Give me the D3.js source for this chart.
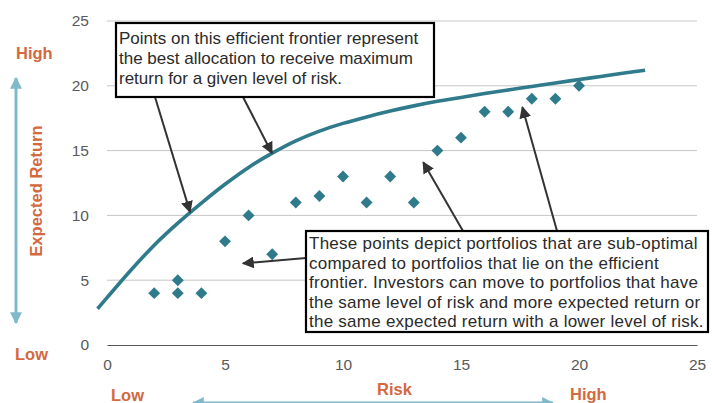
<!DOCTYPE html>
<html>
<head>
<meta charset="utf-8">
<script src="https://cdn.jsdelivr.net/npm/d3@7"></script>
<style>
  html, body { margin: 0; padding: 0; background: #fff; }
  svg { display: block; font-family: "Liberation Sans", Arial, sans-serif; }
</style>
</head>
<body>
<svg id="chart" width="712" height="403"></svg>
<script>
// Efficient frontier (risk, expected return)
const frontierRisk   = [-0.4, 0, 1, 2, 3, 4, 5, 6, 7, 8, 9, 10, 11, 12, 13, 14, 15, 16, 17, 18, 19, 20, 21, 22, 22.8];
const frontierReturn = [2.8, 3.65, 5.75, 7.7, 9.4, 10.95, 12.4, 13.7, 14.8, 15.75, 16.5, 17.1, 17.6, 18.05, 18.45, 18.8, 19.1, 19.4, 19.68, 19.95, 20.22, 20.48, 20.74, 21.0, 21.2];

// Individual portfolios
const portfolioRisk   = [2, 3, 3, 4, 5, 6, 7, 8, 9, 10, 11, 12, 13, 14, 15, 16, 17, 18, 19, 20];
const portfolioReturn = [4, 4, 5, 4, 8, 10, 7, 11, 11.5, 13, 11, 13, 11, 15, 16, 18, 18, 19, 19, 20];

const xTicks = [0, 5, 10, 15, 20, 25];
const yTicks = [0, 5, 10, 15, 20, 25];

const topNote = [
  "Points on this efficient frontier represent",
  "the best allocation to receive maximum",
  "return for a given level of risk."
];
const bottomNote = [
  "These points depict portfolios that are sub-optimal",
  "compared to portfolios that lie on the efficient",
  "frontier.  Investors can move to portfolios that have",
  "the same level of risk and more expected return or",
  "the same expected return with a lower level of risk."
];

// Arrow tips, in chart units
const topTips = [[3.52, 10.25], [6.99, 14.8]];
const bottomTips = [[5.76, 6.3], [13.4, 14.1], [17.6, 18.35]];

const teal = "#2f7a8b";
const orange = "#d2693f";
const guide = "#80b9c9";
const ink = "#333";

const svg = d3.select("#chart");
const x = d3.scaleLinear().domain([0, 25]).range([107, 697]);
const y = d3.scaleLinear().domain([0, 25]).range([345, 21]);

const defs = svg.append("defs");
defs.append("marker")
  .attr("id", "head").attr("viewBox", "0 0 10 10")
  .attr("refX", 9).attr("refY", 5)
  .attr("markerWidth", 6).attr("markerHeight", 6)
  .attr("markerUnits", "strokeWidth")
  .attr("orient", "auto")
  .append("path").attr("d", "M0,0 L10,5 L0,10 Z").attr("fill", ink);
defs.append("marker")
  .attr("id", "guideHead").attr("viewBox", "0 0 10 10")
  .attr("refX", 9).attr("refY", 5)
  .attr("markerWidth", 4).attr("markerHeight", 4)
  .attr("markerUnits", "strokeWidth")
  .attr("orient", "auto-start-reverse")
  .append("path").attr("d", "M0,0 L10,5 L0,10 Z").attr("fill", guide);

// Gridlines
svg.append("g")
  .selectAll("line").data(yTicks.filter(d => d > 0)).join("line")
  .attr("x1", x(0)).attr("x2", x(25))
  .attr("y1", d => y(d)).attr("y2", d => y(d))
  .attr("stroke", "#c6c6c6").attr("stroke-width", 1);

// Y axis labels
const yAxis = svg.append("g").attr("transform", `translate(${x(0)},0)`)
  .call(d3.axisLeft(y).tickValues(yTicks).tickSize(0).tickPadding(18));
yAxis.select(".domain").remove();
yAxis.selectAll("text").attr("font-size", 15.5).attr("fill", "#595959")
  .attr("font-family", "Liberation Sans, Arial, sans-serif");

// X axis
const xAxis = svg.append("g").attr("transform", `translate(0,${y(0)})`)
  .call(d3.axisBottom(x).tickValues(xTicks).tickSize(0).tickPadding(14));
xAxis.select(".domain").attr("stroke", "#555").attr("stroke-width", 1.2);
xAxis.selectAll("text").attr("font-size", 15.5).attr("fill", "#595959")
  .attr("font-family", "Liberation Sans, Arial, sans-serif");

// Frontier curve
const frontier = frontierRisk.map((r, i) => [r, frontierReturn[i]]);
svg.append("path")
  .datum(frontier)
  .attr("d", d3.line().x(d => x(d[0])).y(d => y(d[1])).curve(d3.curveCatmullRom.alpha(0.5)))
  .attr("fill", "none").attr("stroke", teal).attr("stroke-width", 3.6)
  .attr("stroke-linecap", "butt");

// Portfolio diamonds
const diamond = d3.symbol().type(d3.symbolDiamond2).size(90);
svg.append("g")
  .selectAll("path").data(portfolioRisk.map((r, i) => [r, portfolioReturn[i]])).join("path")
  .attr("transform", d => `translate(${x(d[0])},${y(d[1])})`)
  .attr("d", diamond)
  .attr("fill", teal);

// Callout arrows
function arrow(x1, y1, tip) {
  svg.append("line")
    .attr("x1", x1).attr("y1", y1)
    .attr("x2", x(tip[0])).attr("y2", y(tip[1]))
    .attr("stroke", ink).attr("stroke-width", 2)
    .attr("marker-end", "url(#head)");
}
arrow(155, 97, topTips[0]);
arrow(243, 97, topTips[1]);
arrow(306, 258, bottomTips[0]);
arrow(463, 231, bottomTips[1]);
arrow(557, 231, bottomTips[2]);

// Callout boxes
function note(bx, by, bw, bh, lines, lineY0, step, size, spacing) {
  svg.append("rect").attr("x", bx).attr("y", by).attr("width", bw).attr("height", bh)
    .attr("fill", "#fff").attr("stroke", "#000").attr("stroke-width", 2.2);
  svg.append("g").selectAll("text").data(lines).join("text")
    .attr("x", bx + 3).attr("y", (d, i) => lineY0 + i * step)
    .attr("font-size", size).attr("fill", "#2b2b2b")
    .attr("letter-spacing", spacing)
    .text(d => d);
}
note(116, 23, 318, 74, topNote, 44, 20, 17, 0);
note(306, 231, 402, 101, bottomNote, 249, 19.6, 17, 0.25);

// Return guide (left)
svg.append("line")
  .attr("x1", 16).attr("x2", 16).attr("y1", 78).attr("y2", 323)
  .attr("stroke", guide).attr("stroke-width", 3)
  .attr("marker-start", "url(#guideHead)").attr("marker-end", "url(#guideHead)");
svg.append("text").attr("x", 16).attr("y", 59).attr("font-size", 16.5).attr("font-weight", "bold")
  .attr("fill", orange).text("High");
svg.append("text").attr("x", 15).attr("y", 360).attr("font-size", 16.5).attr("font-weight", "bold")
  .attr("fill", orange).text("Low");
svg.append("text")
  .attr("transform", "translate(42,191) rotate(-90)")
  .attr("text-anchor", "middle")
  .attr("font-size", 16.5).attr("font-weight", "bold").attr("fill", orange)
  .text("Expected Return");

// Risk guide (bottom)
svg.append("line")
  .attr("x1", 193).attr("x2", 553).attr("y1", 403).attr("y2", 403)
  .attr("stroke", guide).attr("stroke-width", 3)
  .attr("marker-start", "url(#guideHead)").attr("marker-end", "url(#guideHead)");
svg.append("text").attr("x", 111).attr("y", 401).attr("font-size", 16.5).attr("font-weight", "bold")
  .attr("fill", orange).text("Low");
svg.append("text").attr("x", 377).attr("y", 395).attr("font-size", 16.5).attr("font-weight", "bold")
  .attr("fill", orange).text("Risk");
svg.append("text").attr("x", 570).attr("y", 400).attr("font-size", 16.5).attr("font-weight", "bold")
  .attr("fill", orange).text("High");
</script>
</body>
</html>
